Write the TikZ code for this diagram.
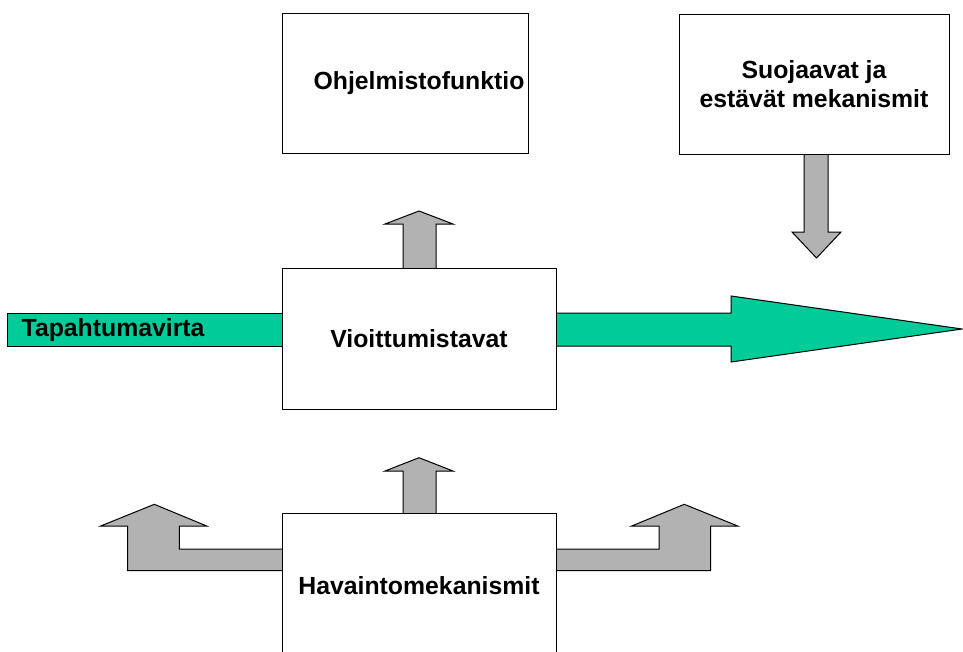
\documentclass[tikz,border=0pt]{standalone}
\usepackage{fontspec}
\setmainfont{Liberation Sans}
\definecolor{flowgreen}{HTML}{00CC99}
\definecolor{blockgrey}{HTML}{B2B2B2}
\begin{document}
\begin{tikzpicture}[x=1pt,y=-1pt,
  box/.style={draw=black,line width=1pt,fill=white,align=center,
    font=\fontsize{24.8}{29}\selectfont\bfseries,inner sep=0pt},
  greyarrow/.style={draw=black,line width=1pt,fill=blockgrey,line join=miter},
  greenarrow/.style={draw=black,line width=1pt,fill=flowgreen,line join=miter},
  lbl/.style={font=\fontsize{24.8}{29}\selectfont\bfseries,inner sep=0pt}]
\useasboundingbox (0,0) rectangle (963,651);
\clip (0,0) rectangle (963,651);

% event flow: bar on the left, big arrow on the right
\draw[greenarrow] (7,313) rectangle (282,346);
\draw[greenarrow] (556,313) -- (731,313) -- (731,296) -- (962,329)
  -- (731,362) -- (731,346) -- (556,346);

% block arrows
\draw[greyarrow] (403,268) -- (403,224) -- (385,224) -- (419,211)
  -- (453,224) -- (436,224) -- (436,268);
\draw[greyarrow] (804,153) -- (804,232) -- (792,232) -- (816.5,258)
  -- (841,232) -- (828,232) -- (828,153);
\draw[greyarrow] (403,514) -- (403,471) -- (385,471) -- (419,457.7)
  -- (453,471) -- (436,471) -- (436,514);
\draw[greyarrow] (282,549) -- (179.3,549) -- (179.3,526) -- (206.7,526)
  -- (154.3,504.3) -- (100.7,526) -- (127.7,526) -- (127.7,570.5) -- (282,570.5);
\draw[greyarrow] (556,549) -- (659,549) -- (659,526) -- (631.7,526)
  -- (684.3,504.3) -- (737.7,526) -- (710.7,526) -- (710.7,570.5) -- (556,570.5);

% boxes
\node[box,minimum width=246pt,minimum height=140pt] (ohj) at (405,83)
  {\hspace*{28pt}Ohjelmistofunktio};
\node[box,minimum width=270pt,minimum height=140pt] (suo) at (814,84)
  {Suojaavat ja\\estävät mekanismit};
\node[box,minimum width=274pt,minimum height=141pt] (vio) at (419,338.5)
  {Vioittumistavat};
\node[box,minimum width=274pt,minimum height=145pt] (hav) at (419,585.5)
  {Havaintomekanismit};

\node[lbl,anchor=base west] (flow) at (21.5,336.7) {Tapahtumavirta};
\end{tikzpicture}
\end{document}
